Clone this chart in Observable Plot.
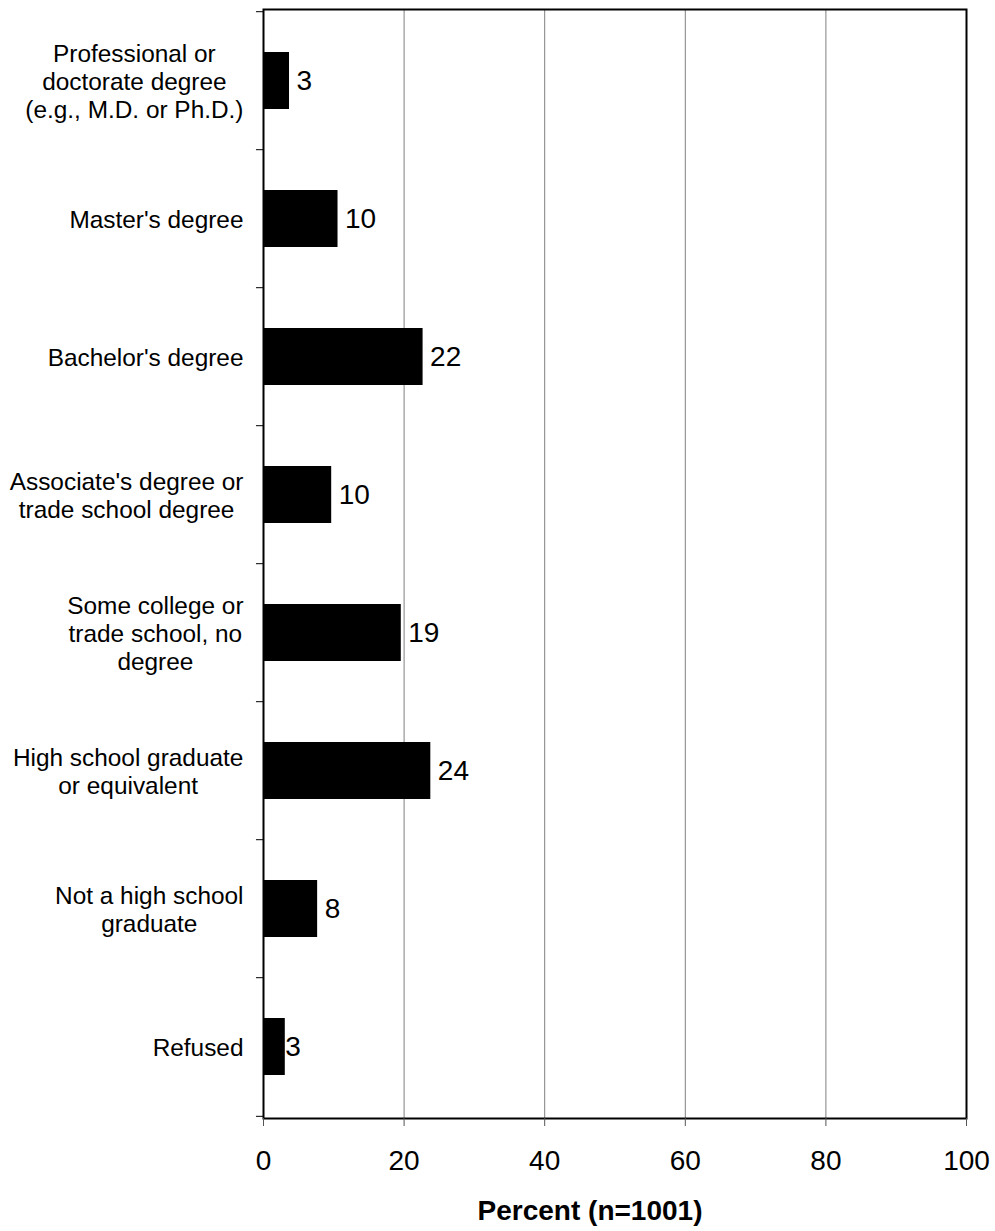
<!DOCTYPE html>
<html>
<head>
<meta charset="utf-8">
<script src="https://cdn.jsdelivr.net/npm/d3@7"></script>
<script src="https://cdn.jsdelivr.net/npm/@observablehq/plot@0.6"></script>
<style>
  body { margin: 0; background: #fff; }
  #chart svg { display: block; }
</style>
</head>
<body>
<div id="chart"></div>
<script>
// ---- Data ----
const categories = [
  "Professional or\ndoctorate degree\n(e.g., M.D. or Ph.D.)",
  "Master's degree",
  "Bachelor's degree",
  "Associate's degree or\ntrade school degree",
  "Some college or\ntrade school, no\ndegree",
  "High school graduate\nor equivalent",
  "Not a high school\ngraduate",
  "Refused"
];
const values = [3.7, 10.6, 22.7, 9.7, 19.6, 23.8, 7.7, 3.1];
const valueLabels = ["3", "10", "22", "10", "19", "24", "8", "3"];
const xTicks = [0, 20, 40, 60, 80, 100];
const gridValues = [20, 40, 60, 80];
const xTitle = "Percent (n=1001)";

// ---- Layout ----
const W = 995, H = 1231;
const mT = 9, mB = 113, mL = 263, mR = 29;
const step = (H - mT - mB) / categories.length;
const font = "'Liberation Sans', Arial, Helvetica, sans-serif";

const data = categories.map((c, i) => ({category: c, value: values[i], label: valueLabels[i]}));
const lastIdx = data.length - 1;

const plot = Plot.plot({
  width: W,
  height: H,
  marginTop: mT,
  marginBottom: mB,
  marginLeft: mL,
  marginRight: mR,
  style: {fontFamily: font, background: "#fff", color: "#000"},
  x: {domain: [0, 100], axis: null},
  y: {domain: categories, paddingInner: 0.585, paddingOuter: 0.2925, axis: null},
  marks: [
    Plot.ruleX(gridValues, {stroke: "#808080", strokeWidth: 1}),
    Plot.barX(data, {x: "value", y: "category", fill: "#000"}),
    // value labels
    Plot.text(data.filter((d, i) => i !== lastIdx), {
      x: "value", y: "category", text: "label",
      textAnchor: "start", dx: 7, fontSize: 28, fill: "#000"
    }),
    Plot.text(data.filter((d, i) => i === lastIdx), {
      x: "value", y: "category", text: "label",
      textAnchor: "start", dx: 0, fontSize: 28, fill: "#000"
    }),
    // category labels
    Plot.text(data, {
      y: "category", text: "category", frameAnchor: "left",
      textAnchor: "end", dx: -20, fontSize: 24.4, lineHeight: 28 / 24.4, fill: "#000"
    }),
    // category boundary tick marks
    Plot.ruleY(data, {y: "category", x1: -1, x2: 0, dy: -step / 2, stroke: "#000", strokeWidth: 1}),
    Plot.ruleY(data.filter((d, i) => i === lastIdx), {y: "category", x1: -1, x2: 0, dy: step / 2, stroke: "#000", strokeWidth: 1}),
    Plot.frame({stroke: "#000", strokeWidth: 2}),
    Plot.axisX({ticks: xTicks, tickSize: 8, tickPadding: 24, fontSize: 28, label: null, stroke: "#555"}),
    Plot.text([xTitle], {
      frameAnchor: "bottom", lineAnchor: "top", dy: 82, dx: -25,
      fontSize: 28, fontWeight: "bold", fill: "#000"
    })
  ]
});

document.getElementById("chart").appendChild(plot);

// Center multi-line category labels within their own block (block right-aligned)
plot.querySelectorAll("text").forEach(t => {
  const spans = t.querySelectorAll("tspan");
  if (spans.length > 1) {
    const w = t.getBBox().width;
    t.setAttribute("text-anchor", "middle");
    const tr = t.getAttribute("transform") || "";
    t.setAttribute("transform", tr + ` translate(${-w / 2},0)`);
  }
});
</script>
</body>
</html>
